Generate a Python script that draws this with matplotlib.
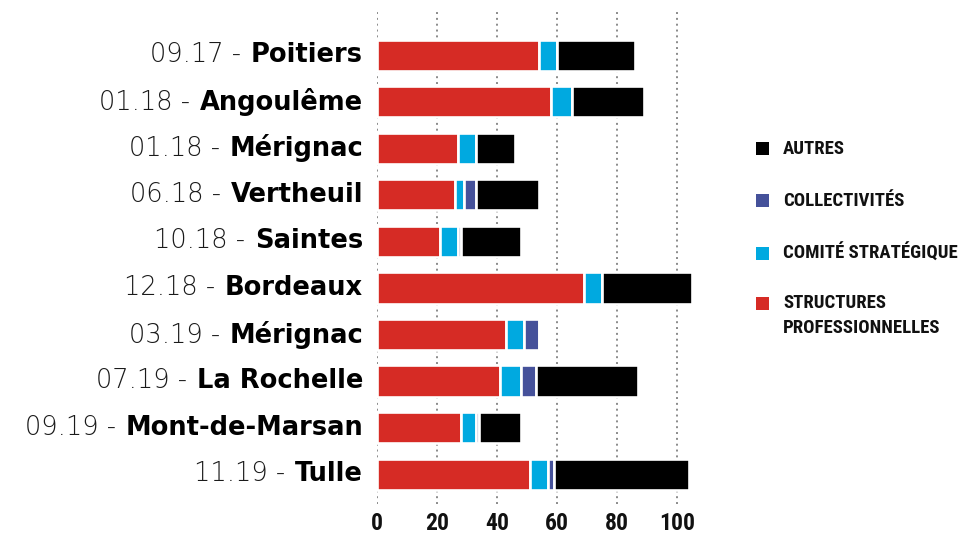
import matplotlib
matplotlib.use('Agg')
import matplotlib.pyplot as plt
from matplotlib import font_manager as fm
from matplotlib.offsetbox import TextArea, HPacker, AnnotationBbox
from matplotlib.patches import Rectangle
import numpy as np

# ---------------- data ----------------
dates = ["09.17", "01.18", "01.18", "06.18", "10.18", "12.18", "03.19", "07.19", "09.19", "11.19"]
cities = ["Poitiers", "Angoulême", "Mérignac", "Vertheuil", "Saintes", "Bordeaux",
          "Mérignac", "La Rochelle", "Mont-de-Marsan", "Tulle"]
structures = [54, 58, 27, 26, 21, 69, 43, 41, 28, 51]
comite = [6, 7, 6, 3, 6, 6, 6, 7, 5, 6]
collectivites = [0, 0, 0, 4, 1, 0, 5, 5, 1, 2]
autres = [26, 24, 13, 21, 20, 30, 0, 34, 14, 45]
xticks = [0, 20, 40, 60, 80, 100]

series_names = ["STRUCTURES\nPROFESSIONNELLES", "COMITÉ STRATÉGIQUE", "COLLECTIVITÉS", "AUTRES"]
series_colors = ["#d62b25", "#00a9e0", "#45519a", "#000000"]

# ---------------- fonts ----------------
names = {f.name for f in fm.fontManager.ttflist}
cond = next((n for n in ["Roboto Condensed", "Liberation Sans Narrow", "DejaVu Sans"] if n in names), "DejaVu Sans")
label_font = "DejaVu Sans"

W, H = 975, 538
fig = plt.figure(figsize=(W / 100, H / 100), dpi=100)
ax = fig.add_axes([377 / W, 1 - 504 / H, 330 / W, 494 / H])

y = np.arange(len(cities))
left = np.zeros(len(cities))
for vals, col in zip([structures, comite, collectivites, autres], series_colors):
    ax.barh(y, vals, left=left, height=0.67, color=col, edgecolor='white',
            linewidth=1.9, zorder=3)
    left += np.array(vals)

ax.set_ylim(9.64, -0.97)
ax.set_xlim(0, 110)
ax.set_xticks(xticks)
ax.set_xticklabels([str(t) for t in xticks], family=cond, fontweight='bold',
                   fontsize=17, color='#111111')
ax.tick_params(axis='x', length=0, pad=6)
ax.set_yticks([])
for s in ax.spines.values():
    s.set_visible(False)
ax.grid(axis='x', color='#8a8a8a', linestyle=(0, (1, 2)), linewidth=1.4, zorder=0)
ax.set_axisbelow(True)

# category labels: regular date + bold city
for i in range(len(cities)):
    ta1 = TextArea(f"{dates[i]} -", textprops=dict(fontsize=18.5, family=label_font,
                                                   fontweight='light', color='#1a1a1a'))
    ta2 = TextArea(cities[i], textprops=dict(fontsize=18.5, family=label_font,
                                             fontweight='bold', color='#000000'))
    box = HPacker(children=[ta1, ta2], align='baseline', pad=0, sep=7)
    ab = AnnotationBbox(box, (0, y[i]), xycoords=ax.get_yaxis_transform(),
                        xybox=(-10, 0), boxcoords='offset points',
                        box_alignment=(1, 0.5), frameon=False, pad=0,
                        annotation_clip=False)
    ax.add_artist(ab)

# legend (manual)
leg_order = [3, 2, 1, 0]
sq_centers = [148.5, 200.5, 253.5, 303]
for k, idx in enumerate(leg_order):
    cy = sq_centers[k]
    fig.patches.append(Rectangle((756 / W, 1 - (cy + 6.5) / H), 13 / W, 13 / H,
                                 transform=fig.transFigure, facecolor=series_colors[idx],
                                 edgecolor='none'))
    for j, line in enumerate(series_names[idx].split("\n")):
        fig.text(783 / W, 1 - (cy + 25 * j) / H, line, family=cond, fontweight='bold',
                 fontsize=13.5, va='center', ha='left', color='#111111')

fig.savefig("out.png", dpi=100)
